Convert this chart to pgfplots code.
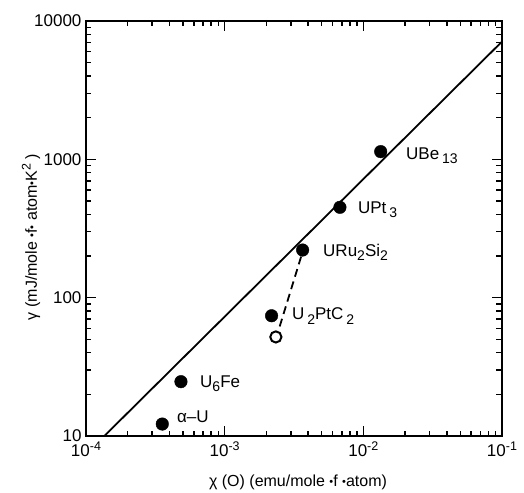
\documentclass[border=0pt]{standalone}
\usepackage{fontspec}
\setmainfont{Liberation Sans}
\usepackage{pgfplots}
\pgfplotsset{compat=1.18}
\newcommand\fs[1]{\fontsize{#1}{#1}\selectfont}
\newcommand\subr[1]{\raisebox{-0.45ex}{\fs{14}#1}}
\newcommand\supr[1]{\raisebox{0.75ex}{\fs{12.5}#1}}
\newcommand\dt{\raisebox{0.15ex}{\fs{11}•}}
\begin{document}
\begin{tikzpicture}
\begin{axis}[
  scale only axis, width=416pt, height=415pt,
  xmode=log, ymode=log,
  xmin=1e-4, xmax=1e-1, ymin=10, ymax=10000,
  tick align=inside,
  major tick length=10pt, minor tick length=5.5pt,
  xtick={1e-4,1e-3,1e-2,1e-1},
  minor xtick={2e-4,3e-4,4e-4,5e-4,6e-4,7e-4,8e-4,9e-4,2e-3,3e-3,4e-3,5e-3,6e-3,7e-3,8e-3,9e-3,2e-2,3e-2,4e-2,5e-2,6e-2,7e-2,8e-2,9e-2},
  xticklabels={10\supr{-4},10\supr{-3},10\supr{-2},10\supr{-1}},
  ytick={10,100,1000,10000},
  minor ytick={20,30,40,50,60,70,80,90,200,300,400,500,600,700,800,900,2000,3000,4000,5000,6000,7000,8000,9000},
  yticklabels={10,100,1000,10000},
  axis line style={line width=1.3pt},
  tick style={black, line width=1.5pt},
  ticklabel style={font=\fs{17}},
  xticklabel style={yshift=-2pt},
  yticklabel style={xshift=-1pt},
  clip=false,
]
\addplot[black, line width=1.8pt] coordinates {(1.356e-4,10) (0.1,7100)};
\addplot[black, line width=1.8pt, dash pattern=on 8pt off 5pt] coordinates {(0.00356,198) (0.00247,60)};
\addplot[only marks, mark=*, mark size=6.3pt, black] coordinates {
 (0.01334,1137) (0.00678,450) (0.00365,221) (0.00218,74) (0.000484,24.7) (0.000355,12.2)};
\addplot[only marks, mark=o, mark size=5.6pt, black, line width=2pt, mark options={fill=white}] coordinates {(0.00234,52)};
\begin{scope}[every node/.style={anchor=base west, inner sep=0pt, font=\fs{17}}]
\node at (axis cs:0.0203,990) {UBe\,\subr{13}};
\node at (axis cs:0.00914,409) {UPt\,\subr{3}};
\node at (axis cs:0.00512,197) {URu\subr{2}Si\subr{2}};
\node at (axis cs:0.00306,69) {U\,\subr{2}PtC\,\subr{2}};
\node at (axis cs:0.000664,22.6) {U\subr{6}Fe};
\node at (axis cs:0.000453,12.6) {α--U};
\end{scope}
\end{axis}
\node[font=\fs{16}, inner sep=0pt, anchor=center] at (212pt,-46.5pt) {χ (O) (emu/mole \dt f \dt atom)};
\node[font=\fs{16}, inner sep=0pt, anchor=center, rotate=90] at (-55pt,199pt) {γ (mJ/mole \dt f\dt\ atom\dt K\supr{2} )};
\pgfresetboundingbox
\path (-86pt,-56pt) rectangle (438pt,436pt);
\end{tikzpicture}
\end{document}
